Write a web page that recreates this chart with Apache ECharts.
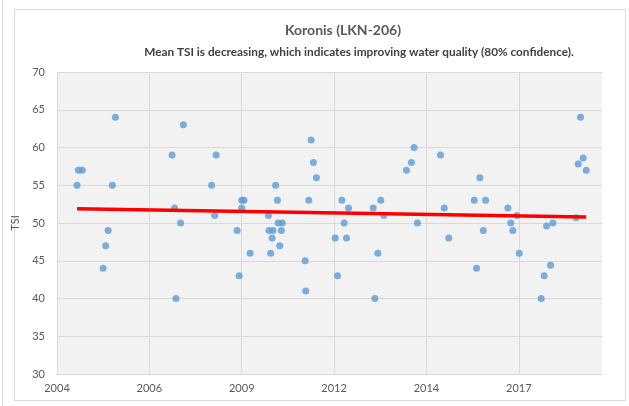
<!DOCTYPE html>
<html>
<head>
<meta charset="utf-8">
<script src="https://cdn.jsdelivr.net/npm/echarts@6/dist/echarts.min.js"></script>
<style>
  html, body { margin: 0; padding: 0; background: #fff; }
  #chart { width: 629px; height: 406px; }
</style>
</head>
<body>
<div id="chart"></div>
<script>
// sample dates and TSI values
const sampleDates = [
  '2004-08-18', '2004-09-01', '2004-10-14', '2005-05-27', '2005-06-24', '2005-07-20', '2005-09-04', '2005-10-07',
  '2007-06-13', '2007-07-10', '2007-07-25', '2007-09-13', '2007-10-13',
  '2008-08-14', '2008-09-16', '2008-10-01',
  '2009-05-17', '2009-06-08', '2009-07-06', '2009-07-06', '2009-07-31', '2009-10-04',
  '2010-04-20', '2010-04-28', '2010-05-15', '2010-05-31', '2010-06-10', '2010-07-08', '2010-07-27', '2010-08-04', '2010-08-21', '2010-09-08', '2010-09-19',
  '2011-05-23', '2011-05-30', '2011-07-01', '2011-07-27', '2011-08-21', '2011-09-22',
  '2012-04-13', '2012-05-08', '2012-06-24', '2012-07-19', '2012-08-13', '2012-09-04',
  '2013-05-29', '2013-06-16', '2013-07-18', '2013-08-19', '2013-09-21',
  '2014-05-24', '2014-07-17', '2014-08-15', '2014-09-20',
  '2015-05-28', '2015-07-07', '2015-08-25',
  '2016-05-27', '2016-06-21', '2016-07-27', '2016-09-02', '2016-09-27',
  '2017-05-26', '2017-06-27', '2017-07-19', '2017-08-31', '2017-09-26',
  '2018-05-22', '2018-06-23', '2018-07-19', '2018-08-31', '2018-09-25',
  '2019-06-05', '2019-06-27', '2019-07-21', '2019-08-19', '2019-09-21'
]
const tsiValues = [
  55, 57, 57, 44, 47, 49, 55, 64,
  59, 52, 40, 50, 63,
  55, 51, 59,
  49, 43, 52, 53, 53, 46,
  51, 49, 46, 48, 49, 55, 53, 50, 47, 49, 50,
  45, 41, 53, 61, 58, 56,
  48, 43, 53, 50, 48, 52,
  52, 40, 46, 53, 51,
  57, 58, 60, 50,
  59, 52, 48,
  53, 44, 56, 49, 53,
  52, 50, 49, 51, 46,
  40, 43, 49.6, 44.4, 50,
  50.7, 57.8, 64, 58.6, 57
]
// trend line end points
const trendDates = ['2004-08-18', '2019-09-21']
const trendValues = [51.9, 50.8]
// x axis ticks: every 1000 days from 2004-01-14
const axisStart = '2004-01-14'
const axisDays = 5900
const tickDays = 1000

const DAY = 86400000
const toMs = s => Date.parse(s + 'T00:00:00Z')
const xMin = toMs(axisStart)
const xMax = xMin + axisDays * DAY

const chart = echarts.init(document.getElementById('chart'))
const grey = '#595959'

const option = {
  animation: false,
  textStyle: { fontFamily: 'Lato, "Open Sans", sans-serif' },
  title: [
    {
      text: 'Koronis (LKN-206)',
      left: 338, top: 18, textAlign: 'center',
      textStyle: { fontSize: 14, fontWeight: 'bold', color: grey, fontFamily: 'Lato' }
    },
    {
      text: 'Mean TSI is decreasing, which indicates improving water quality (80% confidence).',
      left: 354, top: 41, textAlign: 'center',
      textStyle: { fontSize: 11.8, fontWeight: 'bold', color: '#404040', fontFamily: 'Lato' }
    }
  ],
  graphic: [
    { type: 'rect', shape: { x: 14.5, y: 9.5, width: 611, height: 391 }, style: { fill: 'none', stroke: '#d9d9d9', lineWidth: 1 }, z: -10 },
    { type: 'line', shape: { x1: 2.5, y1: 0, x2: 2.5, y2: 406 }, style: { stroke: '#d9d9d9', lineWidth: 1 }, z: -10 }
  ],
  grid: {
    left: 57, right: 27, top: 72, bottom: 32,
    show: true, backgroundColor: '#f2f2f2', borderWidth: 0
  },
  xAxis: {
    type: 'value',
    min: xMin, max: xMax, interval: tickDays * DAY,
    axisLine: { show: true, lineStyle: { color: '#d9d9d9' } },
    axisTick: { show: false },
    axisLabel: {
      color: grey, fontSize: 11, margin: 9,
      formatter: v => ((v - xMin) % (tickDays * DAY) === 0 ? String(new Date(v).getUTCFullYear()) : '')
    },
    splitLine: { show: true, showMaxLine: false, lineStyle: { color: '#d9d9d9' } }
  },
  yAxis: {
    type: 'value',
    min: 30, max: 70, interval: 5,
    name: 'TSI', nameLocation: 'middle', nameGap: 26,
    nameTextStyle: { color: grey, fontSize: 11 },
    axisLine: { show: false },
    axisTick: { show: false },
    axisLabel: { color: grey, fontSize: 11, margin: 12 },
    splitLine: { lineStyle: { color: '#d9d9d9' } }
  },
  series: [
    {
      type: 'scatter',
      symbolSize: 7,
      itemStyle: { color: '#5b9bd5' },
      data: sampleDates.map((d, i) => [toMs(d), tsiValues[i]])
    },
    {
      type: 'line',
      symbol: 'none',
      lineStyle: { color: '#ff0000', width: 3.5 },
      data: trendDates.map((d, i) => [toMs(d), trendValues[i]]),
      z: 3
    }
  ]
}
chart.setOption(option)
</script>
</body>
</html>
